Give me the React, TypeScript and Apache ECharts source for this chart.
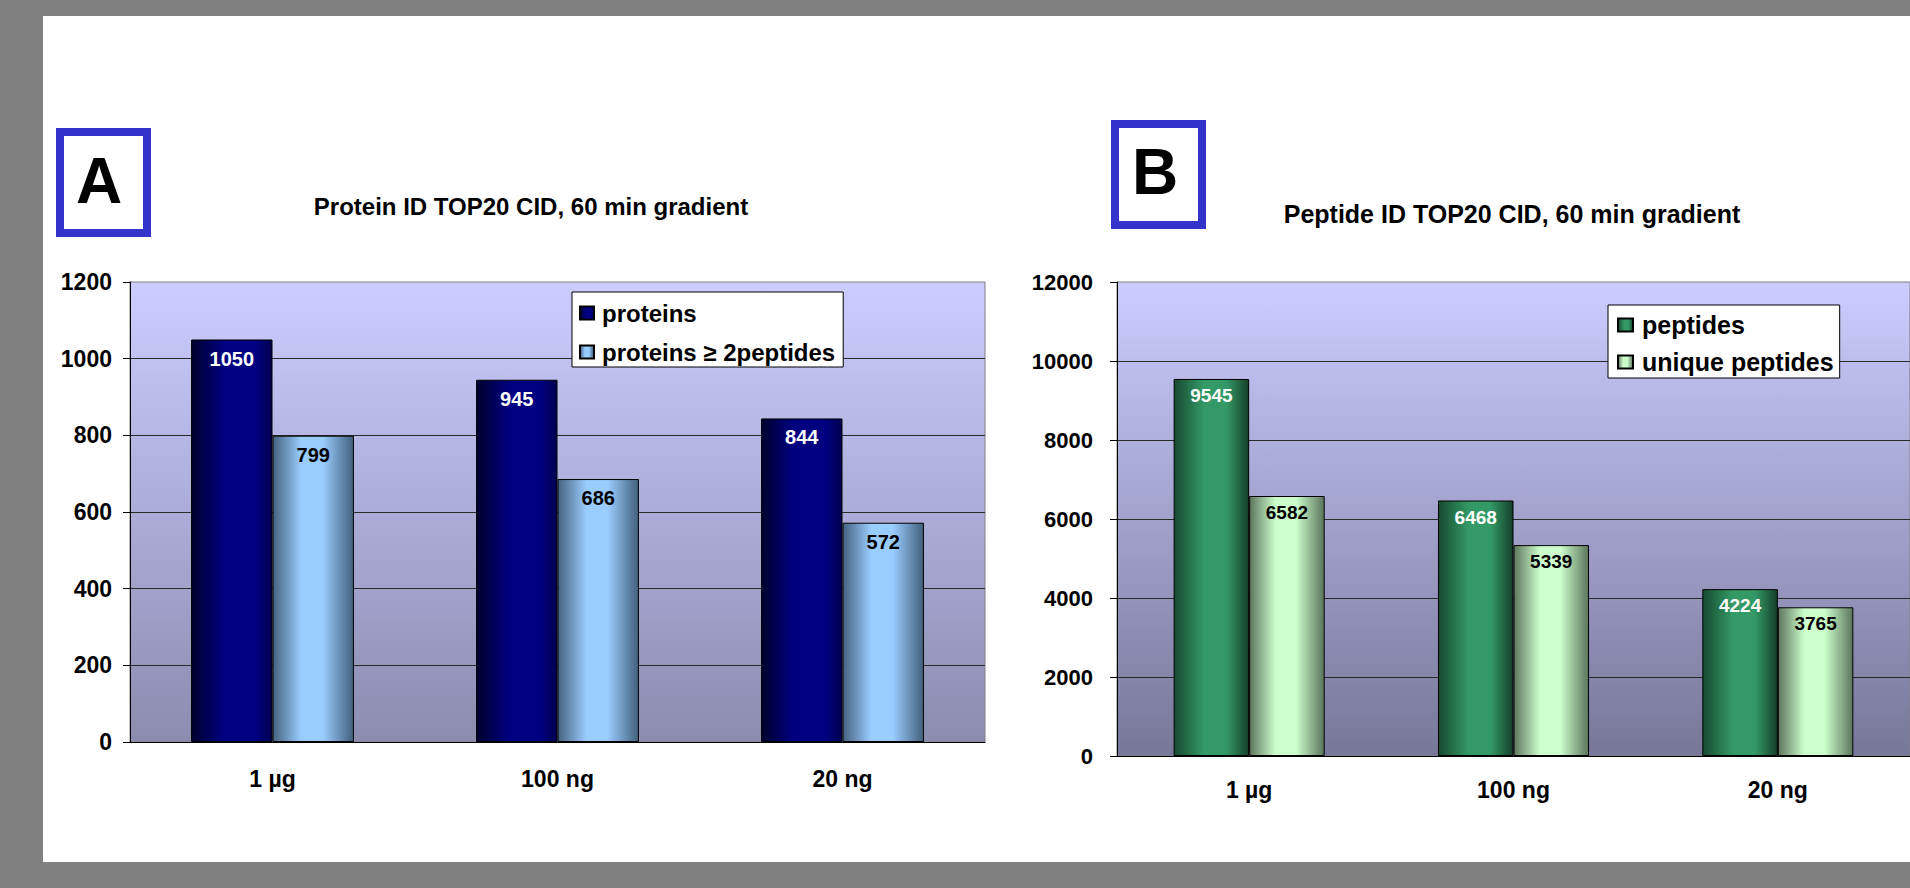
import React, { useEffect, useRef } from "react";
import * as echarts from "echarts";

const categories = ["1 µg", "100 ng", "20 ng"];
const proteins = [1050, 945, 844];
const proteins2 = [799, 686, 572];
const peptides = [9545, 6468, 4224];
const uniquePeptides = [6582, 5339, 3765];
const titleA = "Protein ID TOP20 CID, 60 min gradient";
const titleB = "Peptide ID TOP20 CID, 60 min gradient";
const nameProteins = "proteins";
const nameProteins2 = "proteins ≥ 2peptides";
const namePeptides = "peptides";
const nameUnique = "unique peptides";

const FONT = "'Liberation Sans', Arial, sans-serif";

const hGrad = (stops: [number, string][]) => ({
  type: "linear",
  x: 0,
  y: 0,
  x2: 1,
  y2: 0,
  colorStops: stops.map(([offset, color]) => ({ offset, color })),
});
const vGrad = (top: string, bottom: string) => ({
  type: "linear",
  x: 0,
  y: 0,
  x2: 0,
  y2: 1,
  colorStops: [
    { offset: 0, color: top },
    { offset: 1, color: bottom },
  ],
});

const darkBlue = hGrad([
  [0, "#00002e"],
  [0.4, "#000080"],
  [0.8, "#000080"],
  [1, "#000050"],
]);
const lightBlue = hGrad([
  [0, "#45627f"],
  [0.35, "#99ccff"],
  [0.62, "#99ccff"],
  [1, "#42607c"],
]);
const darkGreen = hGrad([
  [0, "#174a30"],
  [0.4, "#339966"],
  [0.7, "#339966"],
  [1, "#153f2a"],
]);
const lightGreen = hGrad([
  [0, "#5e765e"],
  [0.35, "#ccffcc"],
  [0.62, "#ccffcc"],
  [1, "#5c745c"],
]);

export default function App() {
  const ref = useRef<HTMLDivElement>(null);
  useEffect(() => {
    if (!ref.current) return;
    const chart = echarts.init(ref.current, null, { renderer: "svg" });
    const axisLabelX = (margin: number, size: number) => ({
      margin,
      fontSize: size,
      fontWeight: "bold",
      color: "#000",
      fontFamily: FONT,
    });
    const barLabel = (color: string, size: number, distance: number) => ({
      show: true,
      position: "insideTop",
      distance,
      color,
      fontSize: size,
      fontWeight: "bold",
      fontFamily: FONT,
    });
    const legendBase = {
      orient: "vertical",
      backgroundColor: "#fff",
      borderColor: "#000",
      borderWidth: 1,
      borderRadius: 0,
      icon: "rect",
      align: "left",
    };
    const plain = (v: number) => String(v);
    chart.setOption({
      animation: false,
      backgroundColor: "transparent",
      textStyle: { fontFamily: FONT },
      grid: [
        {
          left: 130,
          top: 282,
          width: 855,
          height: 460,
          show: true,
          backgroundColor: vGrad("#ccccff", "#8c8cb0"),
          borderColor: "#808080",
          borderWidth: 1,
        },
        {
          left: 1117,
          top: 282,
          width: 798,
          height: 474,
          show: true,
          backgroundColor: vGrad("#ccccff", "#777799"),
          borderColor: "#808080",
          borderWidth: 1,
        },
      ],
      xAxis: [
        {
          gridIndex: 0,
          type: "category",
          data: categories,
          axisLine: { lineStyle: { color: "#000", width: 1 } },
          axisTick: { length: 7, lineStyle: { color: "#000" } },
          axisLabel: axisLabelX(25, 23),
        },
        {
          gridIndex: 1,
          type: "category",
          data: categories,
          axisLine: { lineStyle: { color: "#000", width: 1 } },
          axisTick: { length: 7, lineStyle: { color: "#000" } },
          axisLabel: axisLabelX(22, 23),
        },
      ],
      yAxis: [
        {
          gridIndex: 0,
          type: "value",
          min: 0,
          max: 1200,
          interval: 200,
          axisLine: { show: true, lineStyle: { color: "#000" } },
          axisTick: { show: true, length: 7, lineStyle: { color: "#000" } },
          axisLabel: { ...axisLabelX(18, 23), formatter: plain },
          splitLine: {
            show: true,
            showMaxLine: false,
            lineStyle: { color: "#2a2a2a", width: 1 },
          },
        },
        {
          gridIndex: 1,
          type: "value",
          min: 0,
          max: 12000,
          interval: 2000,
          axisLine: { show: true, lineStyle: { color: "#000" } },
          axisTick: { show: true, length: 7, lineStyle: { color: "#000" } },
          axisLabel: { ...axisLabelX(24, 22), formatter: plain },
          splitLine: {
            show: true,
            showMaxLine: false,
            lineStyle: { color: "#2a2a2a", width: 1 },
          },
        },
      ],
      legend: [
        {
          ...legendBase,
          data: [nameProteins, nameProteins2],
          left: 572,
          top: 292,
          padding: [8, 8, 2, 7],
          itemWidth: 14,
          itemHeight: 13,
          itemGap: 13,
          textStyle: {
            fontSize: 24,
            fontWeight: "bold",
            color: "#000",
            fontFamily: FONT,
            lineHeight: 26,
            padding: [0, 0, 0, 3],
          },
        },
        {
          ...legendBase,
          data: [namePeptides, nameUnique],
          left: 1608,
          top: 305,
          padding: [6, 6, 2, 9],
          itemWidth: 15,
          itemHeight: 13,
          itemGap: 9,
          textStyle: {
            fontSize: 25,
            fontWeight: "bold",
            color: "#000",
            fontFamily: FONT,
            lineHeight: 28,
            padding: [0, 0, 0, 4],
          },
        },
      ],
      series: [
        {
          name: nameProteins,
          type: "bar",
          xAxisIndex: 0,
          yAxisIndex: 0,
          data: proteins,
          barGap: "0%",
          barCategoryGap: "42.86%",
          itemStyle: { color: darkBlue, borderColor: "#000", borderWidth: 1 },
          label: barLabel("#fff", 20, 9),
        },
        {
          name: nameProteins2,
          type: "bar",
          xAxisIndex: 0,
          yAxisIndex: 0,
          data: proteins2,
          barGap: "0%",
          barCategoryGap: "42.86%",
          itemStyle: { color: lightBlue, borderColor: "#000", borderWidth: 1 },
          label: barLabel("#000", 20, 9),
        },
        {
          name: namePeptides,
          type: "bar",
          xAxisIndex: 1,
          yAxisIndex: 1,
          data: peptides,
          barGap: "0%",
          barCategoryGap: "42.86%",
          itemStyle: { color: darkGreen, borderColor: "#000", borderWidth: 1 },
          label: barLabel("#fff", 19, 7),
        },
        {
          name: nameUnique,
          type: "bar",
          xAxisIndex: 1,
          yAxisIndex: 1,
          data: uniquePeptides,
          barGap: "0%",
          barCategoryGap: "42.86%",
          itemStyle: { color: lightGreen, borderColor: "#000", borderWidth: 1 },
          label: barLabel("#000", 19, 7),
        },
      ],
      graphic: [
        {
          type: "rect",
          shape: { x: 60, y: 132, width: 87, height: 101 },
          style: { fill: "#fff", stroke: "#3333cc", lineWidth: 8 },
        },
        {
          type: "text",
          x: 99,
          y: 181,
          style: {
            text: "A",
            fontSize: 64,
            fontWeight: "bold",
            fontFamily: FONT,
            fill: "#000",
            align: "center",
            verticalAlign: "middle",
          },
        },
        {
          type: "rect",
          shape: { x: 1115, y: 124, width: 87, height: 101 },
          style: { fill: "#fff", stroke: "#3333cc", lineWidth: 8 },
        },
        {
          type: "text",
          x: 1155,
          y: 172,
          style: {
            text: "B",
            fontSize: 64,
            fontWeight: "bold",
            fontFamily: FONT,
            fill: "#000",
            align: "center",
            verticalAlign: "middle",
          },
        },
        {
          type: "text",
          x: 531,
          y: 206,
          style: {
            text: titleA,
            fontSize: 24,
            fontWeight: "bold",
            fontFamily: FONT,
            fill: "#000",
            align: "center",
            verticalAlign: "middle",
          },
        },
        {
          type: "text",
          x: 1512,
          y: 214,
          style: {
            text: titleB,
            fontSize: 25,
            fontWeight: "bold",
            fontFamily: FONT,
            fill: "#000",
            align: "center",
            verticalAlign: "middle",
          },
        },
      ],
    });
    return () => chart.dispose();
  }, []);

  return (
    <div
      style={{
        position: "fixed",
        left: 0,
        top: 0,
        width: 1910,
        height: 888,
        background: "#808080",
        overflow: "hidden",
      }}
    >
      <div
        style={{
          position: "absolute",
          left: 43,
          top: 16,
          width: 1867,
          height: 846,
          background: "#ffffff",
        }}
      />
      <div
        ref={ref}
        style={{ position: "absolute", left: 0, top: 0, width: 1910, height: 888 }}
      />
    </div>
  );
}
